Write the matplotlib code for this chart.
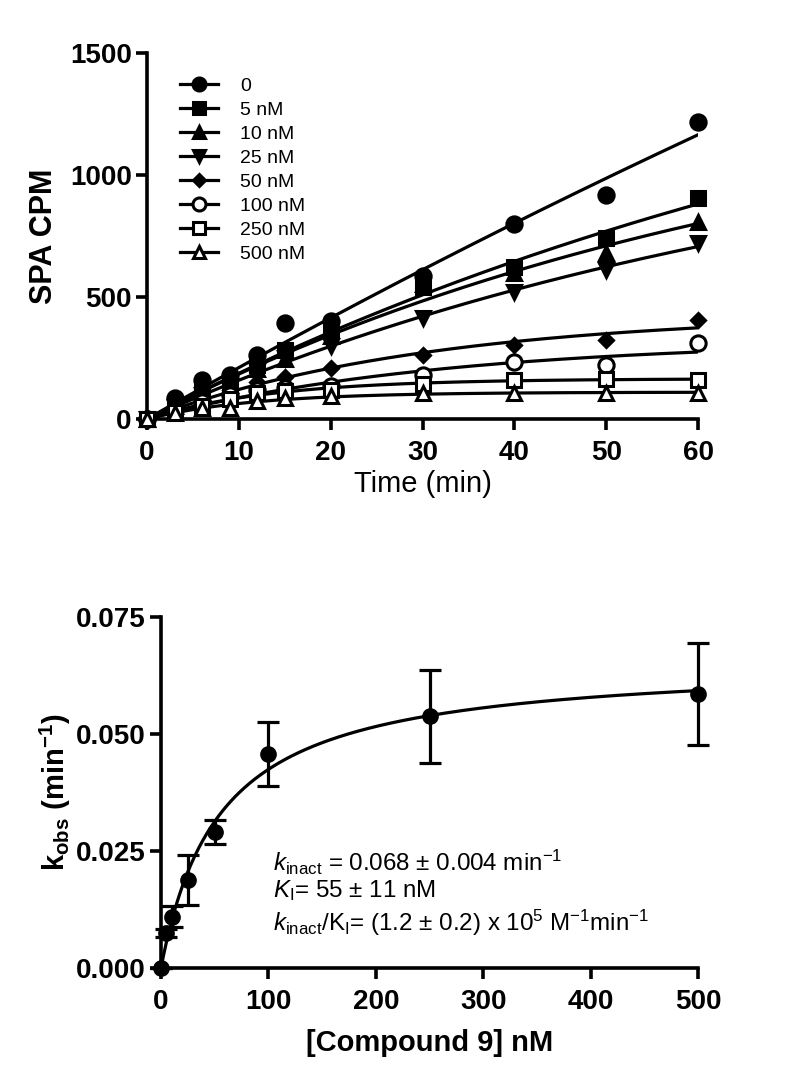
import matplotlib
matplotlib.use('Agg')
import matplotlib.pyplot as plt
import numpy as np

plt.rcParams['font.family'] = ['Liberation Sans', 'DejaVu Sans']
plt.rcParams['mathtext.fontset'] = 'custom'
plt.rcParams['mathtext.rm'] = 'Liberation Sans'
plt.rcParams['mathtext.it'] = 'Liberation Sans:italic'
plt.rcParams['mathtext.bf'] = 'Liberation Sans:bold'

# top panel: SPA CPM vs time for each compound concentration
times = [0, 3, 6, 9, 12, 15, 20, 30, 40, 50, 60]
labels = ['0', '5 nM', '10 nM', '25 nM', '50 nM', '100 nM', '250 nM', '500 nM']
cpm_0 = [0, 85, 160, 180, 262, 392, 400, 585, 799, 918, 1218]
cpm_5 = [0, 60, 120, 150, 220, 283, 360, 542, 624, 740, 904]
cpm_10 = [0, 55, 110, 140, 205, 245, 340, 555, 598, 680, 809]
cpm_25 = [0, 50, 100, 135, 195, 250, 300, 414, 522, 611, 720]
cpm_50 = [0, 40, 90, 120, 151, 173, 208, 262, 303, 324, 406]
cpm_100 = [0, 35, 70, 98, 119, 126, 135, 180, 233, 221, 310]
cpm_250 = [0, 30, 55, 80, 105, 115, 120, 145, 160, 164, 160]
cpm_500 = [0, 25, 45, 44, 75, 85, 95, 105, 107, 106, 106]
series = [cpm_0, cpm_5, cpm_10, cpm_25, cpm_50, cpm_100, cpm_250, cpm_500]

# bottom panel: kobs vs concentration
conc = [0, 5, 10, 25, 50, 100, 250, 500]
kobs = [0.0, 0.0075, 0.0110, 0.0188, 0.0291, 0.0457, 0.0538, 0.0585]
kobs_err = [0.0, 0.0008, 0.0022, 0.0053, 0.0026, 0.0069, 0.0099, 0.0109]

markers = [('o', 'k', 11), ('s', 'k', 10), ('^', 'k', 10), ('v', 'k', 10),
           ('D', 'k', 7.5), ('o', 'white', 11), ('s', 'white', 10), ('^', 'white', 10)]


def fit_exp(t, y):
    t = np.asarray(t, float)
    y = np.asarray(y, float)
    best = None
    for k in np.linspace(1e-4, 0.2, 4000):
        f = 1 - np.exp(-k * t)
        A = f @ y / (f @ f)
        sse = np.sum((y - A * f) ** 2)
        if best is None or sse < best[0]:
            best = (sse, A, k)
    return best[1], best[2]


def fit_hyper(c, k):
    c = np.asarray(c, float)
    k = np.asarray(k, float)
    best = None
    for KI in np.linspace(1, 300, 3000):
        f = c / (KI + c)
        kin = f @ k / (f @ f)
        sse = np.sum((k - kin * f) ** 2)
        if best is None or sse < best[0]:
            best = (sse, kin, KI)
    return best[1], best[2]


fig = plt.figure(figsize=(7.88, 10.84), dpi=100)
ax1 = fig.add_axes([147 / 788, 1 - 419 / 1084, 551 / 788, 366 / 1084])
ax2 = fig.add_axes([161 / 788, 1 - 968 / 1084, 537 / 788, 351 / 1084])

tt = np.linspace(0, 60, 200)
for y, lab, (m, fc, ms) in zip(series, labels, markers):
    A, k = fit_exp(times, y)
    ax1.plot(tt, A * (1 - np.exp(-k * tt)), color='k', lw=2.3, zorder=2)
    ax1.plot(times, y, ls='none', marker=m, mfc=fc, mec='k', mew=2.2, ms=ms,
             clip_on=False, zorder=3)
    ax1.plot([], [], color='k', lw=2.3, marker=m, mfc=fc, mec='k', mew=2.2, ms=ms,
             label=lab)

ax1.set_xlim(0, 60)
ax1.set_ylim(0, 1500)
ax1.set_xticks([0, 10, 20, 30, 40, 50, 60])
ax1.set_yticks([0, 500, 1000, 1500])
ax1.set_xlabel('Time (min)', fontsize=21, labelpad=3)
ax1.set_ylabel('SPA CPM', fontsize=22, fontweight='bold', labelpad=8)
ax1.legend(loc='upper left', bbox_to_anchor=(0.045, 0.955), frameon=False, fontsize=14,
           handlelength=2.0, handletextpad=1.1, labelspacing=0.33, markerscale=0.85,
           borderaxespad=0)

cc = np.linspace(0, 500, 400)
kin, KI = fit_hyper(conc, kobs)
ax2.plot(cc, kin * cc / (KI + cc), color='k', lw=2.3, zorder=2)
ax2.errorbar(conc, kobs, yerr=kobs_err, fmt='o', color='k', ms=11, elinewidth=2.3,
             capsize=8, capthick=2.3, clip_on=False, zorder=3)
ax2.set_xlim(0, 500)
ax2.set_ylim(0, 0.075)
ax2.set_xticks([0, 100, 200, 300, 400, 500])
ax2.set_yticks([0, 0.025, 0.05, 0.075])
ax2.set_yticklabels(['0.000', '0.025', '0.050', '0.075'])
ax2.set_xlabel('[Compound 9] nM', fontsize=21, fontweight='bold', labelpad=10)
ax2.set_ylabel(r'k$_{\mathbf{obs}}$ (min$^{\mathbf{-1}}$)', fontsize=21,
               fontweight='bold', labelpad=2)

txt = 17.4
ax2.text(104, 0.0226, r'$k_{\mathrm{inact}}$ = 0.068 $\pm$ 0.004 min$^{\mathrm{-1}}$',
         fontsize=txt, va='center')
ax2.text(104, 0.0165, r'$K_{\mathrm{I}}$= 55 $\pm$ 11 nM', fontsize=txt, va='center')
ax2.text(104, 0.0096,
         r'$k_{\mathrm{inact}}$/K$_{\mathrm{I}}$= (1.2 $\pm$ 0.2) x 10$^{\mathrm{5}}$ M$^{\mathrm{-1}}$min$^{\mathrm{-1}}$',
         fontsize=txt, va='center')

for ax in (ax1, ax2):
    for s in ('top', 'right'):
        ax.spines[s].set_visible(False)
    for s in ('left', 'bottom'):
        ax.spines[s].set_linewidth(2.6)
    ax.tick_params(width=2.6, length=8, labelsize=20)
    ax.tick_params(axis='x', pad=7)
    ax.tick_params(axis='y', pad=3)
    for lbl in ax.get_xticklabels() + ax.get_yticklabels():
        lbl.set_fontweight('bold')

fig.savefig('out.png', dpi=100)
